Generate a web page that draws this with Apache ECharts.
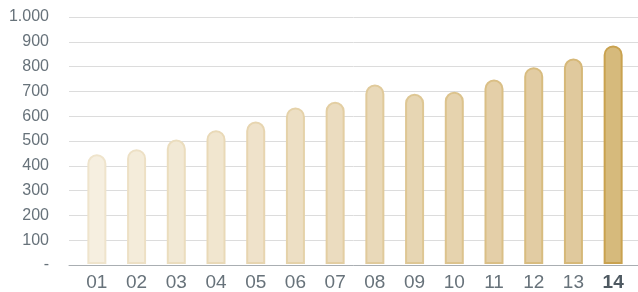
<!DOCTYPE html>
<html><head><meta charset="utf-8">
<script src="https://cdn.jsdelivr.net/npm/echarts@6/dist/echarts.min.js"></script>
<style>html,body{margin:0;padding:0;background:#fff}#c{width:638px;height:292px}</style>
</head><body><div id="c"></div>
<script>
var categories = ['01','02','03','04','05','06','07','08','09','10','11','12','13','14'];
var values = [444, 465, 504, 542, 577, 634, 657, 727, 689, 697, 747, 797, 832, 885];
var yTicks = [0,100,200,300,400,500,600,700,800,900,1000];

function mix(a, b, t){
  var pa=[parseInt(a.substr(1,2),16),parseInt(a.substr(3,2),16),parseInt(a.substr(5,2),16)];
  var pb=[parseInt(b.substr(1,2),16),parseInt(b.substr(3,2),16),parseInt(b.substr(5,2),16)];
  return 'rgb('+pa.map(function(v,i){return Math.round(v+(pb[i]-v)*t);}).join(',')+')';
}
var n = categories.length;
var barData = values.map(function(v,i){
  var last = i===n-1;
  var t = i/(n-2);
  return {
    value: v,
    itemStyle: {
      color: last ? '#d6ba7c' : mix('#f6efe0','#e0c99d',t),
      borderColor: last ? '#c9a24f' : mix('#efe4cc','#d6b878',t),
      borderWidth: 2
    }
  };
});

var chart = echarts.init(document.getElementById('c'), null, {renderer:'canvas'});
chart.setOption({
  animation:false,
  grid:[
    {left:69, right:0, top:17, bottom:27},
    {left:77, right:5, top:17, bottom:27}
  ],
  xAxis:[
    {gridIndex:0, type:'category', data:categories, axisLine:{show:true, lineStyle:{color:'#a9aeb2', width:1}},
     axisTick:{show:false}, axisLabel:{show:false}},
    {gridIndex:1, type:'category', data:categories, axisLine:{show:false}, axisTick:{show:false},
     axisLabel:{interval:0, margin:9, fontSize:19, color:'#67727a', fontFamily:'Liberation Sans, Arial, sans-serif',
       formatter:function(v){ return v===categories[n-1] ? '{b|'+v+'}' : v; },
       rich:{b:{fontSize:19, fontWeight:'bold', color:'#4f5a62', fontFamily:'Liberation Sans, Arial, sans-serif'}}}}
  ],
  yAxis:[
    {gridIndex:0, type:'value', min:yTicks[0], max:yTicks[yTicks.length-1], interval:100,
     axisLine:{show:false}, axisTick:{show:false},
     splitLine:{lineStyle:{color:'#dcdcdc', width:1}},
     axisLabel:{margin:20, fontSize:16, color:'#67727a', fontFamily:'Liberation Sans, Arial, sans-serif',
       formatter:function(v){ if(v===0) return '-'; return v>=1000 ? (Math.floor(v/1000)+'.'+('00'+(v%1000)).slice(-3)) : String(v); }}},
    {gridIndex:1, type:'value', min:yTicks[0], max:yTicks[yTicks.length-1], interval:100, show:false}
  ],
  series:[{
    type:'bar', xAxisIndex:1, yAxisIndex:1, data:barData, barWidth:19,
    itemStyle:{borderRadius:[10,10,0,0]}
  }]
});
</script></body></html>
